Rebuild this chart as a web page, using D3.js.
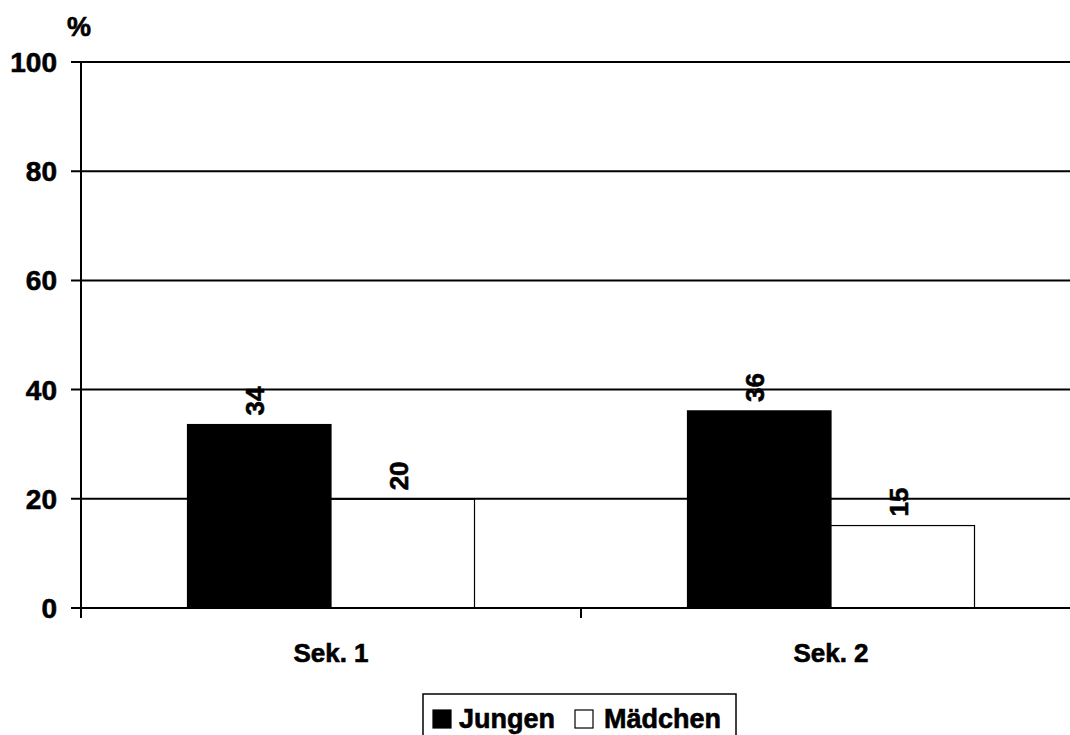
<!DOCTYPE html>
<html><head><meta charset="utf-8">
<script src="https://cdn.jsdelivr.net/npm/d3@7"></script>
<style>body{margin:0;background:#fff;}svg{display:block;font-family:Arial,"Liberation Sans",sans-serif;font-weight:bold;}
text{stroke:#000;stroke-width:0.6px;}</style>
</head><body><svg id="c" width="1070" height="735"></svg>
<script>
const categories = ["Sek. 1", "Sek. 2"];
const seriesNames = ["Jungen", "Mädchen"];
const jungen = [33.6, 36.1];
const maedchen = [19.9, 15.1];
const yTicks = [0, 20, 40, 60, 80, 100];
const colors = ["#000000", "#ffffff"];

const svg = d3.select("#c");
const x = d3.scaleBand().domain(categories).range([81, 1081]);
const y = d3.scaleLinear().domain([0, 100]).range([608, 62]);
const xs = d3.scaleBand().domain(seriesNames).range([0, 287]);

// gridlines
svg.append("g").selectAll("line").data(yTicks).join("line")
  .attr("x1", 71).attr("x2", 1070)
  .attr("y1", d => y(d)).attr("y2", d => y(d))
  .attr("stroke", "#000").attr("stroke-width", 2);

// y labels
svg.append("g").selectAll("text").data(yTicks).join("text")
  .attr("x", 57).attr("y", d => y(d)).attr("dy", "0.36em")
  .attr("text-anchor", "end").attr("font-size", 28).text(d => d);
svg.append("text").attr("x", 79).attr("y", 36).attr("text-anchor", "middle")
  .attr("font-size", 27).text("%");

// bars
const data = [];
categories.forEach((c, i) => {
  data.push({c, s: seriesNames[0], v: jungen[i], col: colors[0]});
  data.push({c, s: seriesNames[1], v: maedchen[i], col: colors[1]});
});
const bx = d => x(d.c) + (x.bandwidth() - 287) / 2 + xs(d.s);
svg.append("g").selectAll("rect").data(data).join("rect")
  .attr("x", bx).attr("width", xs.bandwidth())
  .attr("y", d => y(d.v)).attr("height", d => y(0) - y(d.v))
  .attr("fill", d => d.col).attr("stroke", "#000").attr("stroke-width", 1.2);

// value labels
svg.append("g").selectAll("text").data(data).join("text")
  .attr("transform", d => `translate(${bx(d) + xs.bandwidth()/2 + 5},${y(d.v) - 9}) rotate(-90)`)
  .attr("font-size", 26).attr("text-anchor", "start")
  .text(d => d3.format(".0f")(d.v));

// axes
svg.append("line").attr("x1", 81).attr("x2", 81).attr("y1", 62).attr("y2", 618)
  .attr("stroke", "#000").attr("stroke-width", 2);
svg.append("line").attr("x1", 71).attr("x2", 1070).attr("y1", 608).attr("y2", 608)
  .attr("stroke", "#000").attr("stroke-width", 2);
svg.append("g").selectAll("line").data(categories.slice(1)).join("line")
  .attr("x1", d => x(d)).attr("x2", d => x(d)).attr("y1", 608).attr("y2", 618)
  .attr("stroke", "#000").attr("stroke-width", 2);
svg.append("g").selectAll("text").data(categories).join("text")
  .attr("x", d => x(d) + x.bandwidth()/2).attr("y", 662)
  .attr("text-anchor", "middle").attr("font-size", 26).text(d => d);

// legend
const lg = svg.append("g");
lg.append("rect").attr("x", 423).attr("y", 694).attr("width", 313).attr("height", 50)
  .attr("fill", "#fff").attr("stroke", "#000").attr("stroke-width", 1.5);
const items = [{n: seriesNames[0], col: colors[0], x: 433, tx: 459}, {n: seriesNames[1], col: colors[1], x: 575, tx: 604}];
items.forEach(it => {
  lg.append("rect").attr("x", it.x).attr("y", 710).attr("width", 18).attr("height", 18)
    .attr("fill", it.col).attr("stroke", "#000").attr("stroke-width", 1.2);
  lg.append("text").attr("x", it.tx).attr("y", 728).attr("font-size", 27).text(it.n);
});
</script></body></html>
